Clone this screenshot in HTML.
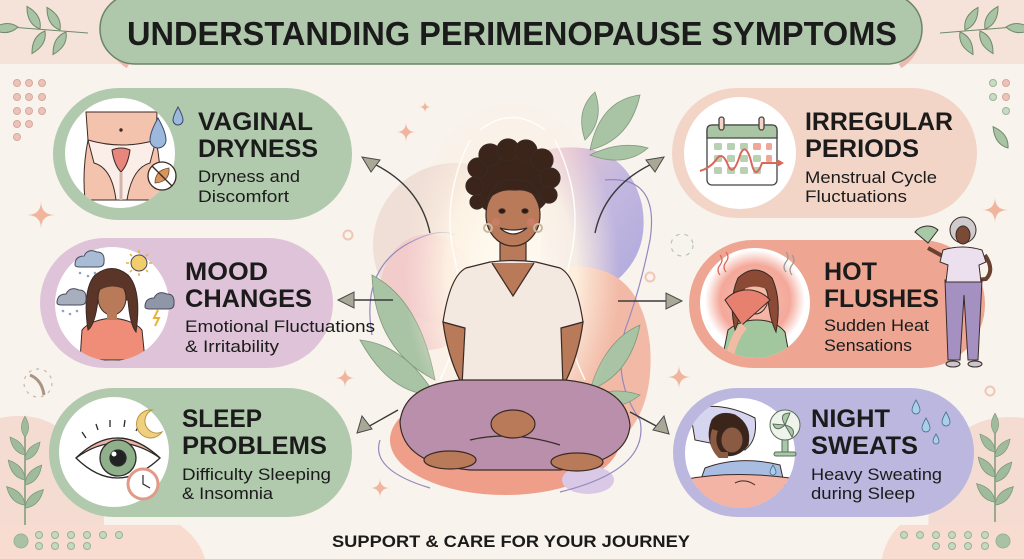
<!DOCTYPE html>
<html><head><meta charset="utf-8"><style>
html,body{margin:0;padding:0;background:#f8f3ec;}
svg{display:block;}
text{font-family:"Liberation Sans",Arial,sans-serif;fill:#1b1b1b;}
.h{font-weight:bold;font-size:25px;}
.s{font-size:17px;}
</style></head><body>
<svg width="1024" height="559" viewBox="0 0 1024 559" xmlns="http://www.w3.org/2000/svg">
<defs>
<radialGradient id="aura" cx="50%" cy="50%" r="50%">
<stop offset="0" stop-color="#fffdf6" stop-opacity="1"/>
<stop offset="0.6" stop-color="#fff6e6" stop-opacity="0.85"/>
<stop offset="1" stop-color="#fde9dc" stop-opacity="0"/>
</radialGradient>
<radialGradient id="heat" cx="50%" cy="50%" r="50%">
<stop offset="0" stop-color="#f7c2b4"/>
<stop offset="0.7" stop-color="#f4a89a"/>
<stop offset="1" stop-color="#fff"/>
</radialGradient>
<linearGradient id="lav" x1="0" y1="0" x2="1" y2="1">
<stop offset="0" stop-color="#efc8cf"/>
<stop offset="0.5" stop-color="#c3b8e0"/>
<stop offset="1" stop-color="#aea8dc"/>
</linearGradient>
<clipPath id="c1"><circle cx="120" cy="153" r="55"/></clipPath>
<clipPath id="c2"><circle cx="112" cy="304" r="57"/></clipPath>
<clipPath id="c3"><circle cx="114" cy="452" r="55"/></clipPath>
<clipPath id="c5"><circle cx="755" cy="303" r="55"/></clipPath>
<clipPath id="c6"><circle cx="740" cy="453" r="55"/></clipPath>
<path id="leaf" d="M0,0 Q9,-11 0,-26 Q-9,-11 0,0Z"/>
<path id="star" d="M0,-10 Q0,0 10,0 Q0,0 0,10 Q0,0 -10,0 Q0,0 0,-10Z"/>
</defs>

<!-- background -->
<rect width="1024" height="559" fill="#f8f3ec"/>
<rect width="1024" height="64" fill="#f5e2d8"/>
<!-- bottom corners -->
<path d="M0,418 Q60,405 95,470 Q110,510 100,559 L0,559Z" fill="#f5dcd2"/>
<path d="M0,525 L180,525 Q200,540 205,559 L0,559Z" fill="#f7dccf"/>
<path d="M1024,418 Q960,410 935,470 Q925,510 930,559 L1024,559Z" fill="#f5dcd2"/>
<path d="M1024,525 L900,525 Q885,540 882,559 L1024,559Z" fill="#f7dccf"/>

<!-- title -->
<path d="M128,-2 A40,40 0 0 0 128,66" fill="none" stroke="#eab9b0" stroke-width="5"/>
<path d="M900,-2 A40,40 0 0 1 900,66" fill="none" stroke="#eab9b0" stroke-width="5"/>
<rect x="100" y="-6" width="822" height="70" rx="35" fill="#afc8ab" stroke="#6b8468" stroke-width="1.5"/>
<text x="127" y="45" font-size="33" font-weight="bold" textLength="770" lengthAdjust="spacingAndGlyphs">UNDERSTANDING PERIMENOPAUSE SYMPTOMS</text>

<!-- top sprigs -->
<g fill="#a9c3a5" stroke="#6f8a6b" stroke-width="1">
<path d="M10,27 Q50,30 88,33" fill="none"/>
<use href="#leaf" transform="translate(18,27) rotate(-95)"/>
<use href="#leaf" transform="translate(40,29) rotate(-30)"/>
<use href="#leaf" transform="translate(60,30) rotate(-30)"/>
<use href="#leaf" transform="translate(45,31) rotate(210)"/>
<use href="#leaf" transform="translate(66,32) rotate(210)"/>
<path d="M1014,27 Q975,30 940,33" fill="none"/>
<use href="#leaf" transform="translate(1006,27) rotate(95)"/>
<use href="#leaf" transform="translate(985,29) rotate(30)"/>
<use href="#leaf" transform="translate(965,30) rotate(30)"/>
<use href="#leaf" transform="translate(980,31) rotate(150)"/>
<use href="#leaf" transform="translate(960,32) rotate(150)"/>
<use href="#leaf" transform="translate(1008,148) rotate(-35)"/>
</g>

<!-- dots top -->
<g fill="#eac4ba" stroke="#d9a89c" stroke-width="1">
<circle cx="17" cy="83" r="3.5"/><circle cx="29" cy="83" r="3.5"/><circle cx="42" cy="83" r="3.5"/>
<circle cx="17" cy="97" r="3.5"/><circle cx="29" cy="97" r="3.5"/><circle cx="42" cy="97" r="3.5"/>
<circle cx="17" cy="111" r="3.5"/><circle cx="29" cy="111" r="3.5"/><circle cx="42" cy="111" r="3.5"/>
<circle cx="17" cy="124" r="3.5"/><circle cx="29" cy="124" r="3.5"/>
<circle cx="17" cy="137" r="3.5"/>
<circle cx="993" cy="83" r="3.5" fill="#c9dbc5" stroke="#9bb597"/><circle cx="1006" cy="83" r="3.5"/>
<circle cx="993" cy="97" r="3.5" fill="#c9dbc5" stroke="#9bb597"/><circle cx="1006" cy="97" r="3.5"/>
<circle cx="1006" cy="111" r="3.5" fill="#c9dbc5" stroke="#9bb597"/>
</g>

<!-- bottom dots -->
<g fill="#c6d8c2" stroke="#97b393" stroke-width="1">
<circle cx="21" cy="541" r="7" fill="#a9c2a6"/>
<circle cx="39" cy="535" r="3.5"/><circle cx="55" cy="535" r="3.5"/><circle cx="71" cy="535" r="3.5"/><circle cx="87" cy="535" r="3.5"/><circle cx="103" cy="535" r="3.5"/><circle cx="119" cy="535" r="3.5"/>
<circle cx="39" cy="546" r="3.5"/><circle cx="55" cy="546" r="3.5"/><circle cx="71" cy="546" r="3.5"/><circle cx="87" cy="546" r="3.5"/>
<circle cx="1003" cy="541" r="7" fill="#a9c2a6"/>
<circle cx="904" cy="535" r="3.5"/><circle cx="920" cy="535" r="3.5"/><circle cx="936" cy="535" r="3.5"/><circle cx="952" cy="535" r="3.5"/><circle cx="968" cy="535" r="3.5"/><circle cx="985" cy="535" r="3.5"/>
<circle cx="936" cy="546" r="3.5"/><circle cx="952" cy="546" r="3.5"/><circle cx="968" cy="546" r="3.5"/><circle cx="985" cy="546" r="3.5"/>
</g>

<!-- bottom plants -->
<g fill="#9fbb9b" stroke="#7d9979" stroke-width="0.8">
<path d="M25,525 L25,435" fill="none" stroke-width="1.5"/>
<use href="#leaf" transform="translate(25,437) rotate(0) scale(0.8)"/>
<use href="#leaf" transform="translate(25,455) rotate(-40) scale(0.9)"/>
<use href="#leaf" transform="translate(25,460) rotate(40) scale(0.9)"/>
<use href="#leaf" transform="translate(25,480) rotate(-40)"/>
<use href="#leaf" transform="translate(25,485) rotate(40)"/>
<use href="#leaf" transform="translate(25,505) rotate(-45)"/>
<use href="#leaf" transform="translate(25,508) rotate(45)"/>
<path d="M995,522 L995,432" fill="none" stroke-width="1.5"/>
<use href="#leaf" transform="translate(995,434) rotate(0) scale(0.8)"/>
<use href="#leaf" transform="translate(995,452) rotate(-40) scale(0.9)"/>
<use href="#leaf" transform="translate(995,457) rotate(40) scale(0.9)"/>
<use href="#leaf" transform="translate(995,477) rotate(-40)"/>
<use href="#leaf" transform="translate(995,482) rotate(40)"/>
<use href="#leaf" transform="translate(995,502) rotate(-45)"/>
<use href="#leaf" transform="translate(995,505) rotate(45)"/>
</g>
<!-- leaf ring left -->
<g fill="none" stroke="#c9b6a8" stroke-width="1.2">
<circle cx="38" cy="383" r="14" stroke-dasharray="3 5"/>
<path d="M30,375 Q42,380 44,395" stroke="#a89585" stroke-width="3"/>
</g>
<g fill="none" stroke="#b6c9b2" stroke-width="1.2">
<circle cx="682" cy="245" r="11" stroke-dasharray="4 5"/>
</g>

<!-- sparkles -->
<g fill="#f0b59c">
<use href="#star" transform="translate(41,215) scale(1.4)"/>
<use href="#star" transform="translate(406,132) scale(1)"/>
<use href="#star" transform="translate(425,107) scale(0.6)"/>
<use href="#star" transform="translate(345,378) scale(1)"/>
<use href="#star" transform="translate(380,488) scale(1)"/>
<use href="#star" transform="translate(995,210) scale(1.3)"/>
<use href="#star" transform="translate(679,377) scale(1.2)"/>
</g>
<g fill="none" stroke="#f0c6b6" stroke-width="2">
<circle cx="348" cy="235" r="4.5"/><circle cx="650" cy="277" r="4.5"/><circle cx="990" cy="391" r="4.5"/>
</g>

<!-- CENTER FIGURE BACKGROUND -->
<circle cx="455" cy="245" r="82" fill="#efdfd6"/>
<path d="M545,150 Q625,135 642,205 Q652,262 600,292 Q560,305 540,262 Z" fill="url(#lav)"/>
<ellipse cx="428" cy="292" rx="48" ry="58" fill="#f2c8c9" opacity="0.85"/>
<path d="M555,268 Q640,255 650,345 Q656,425 600,455 L560,440 Z" fill="#f2baa6"/>
<ellipse cx="505" cy="440" rx="115" ry="55" fill="#ef9f89"/>
<ellipse cx="588" cy="480" rx="26" ry="14" fill="#d9c9e6"/>
<g fill="none" stroke="#9488bf" stroke-width="1.2">
<path d="M372,335 Q360,265 415,240 Q440,228 455,235"/>
<path d="M605,180 Q660,175 650,240 Q640,290 625,330 Q612,380 640,420 Q650,470 560,492"/>
<path d="M380,440 Q370,470 430,488"/>
</g>
<!-- leaves behind -->
<g fill="#a9c3a5" stroke="#7f9a7b" stroke-width="0.8">
<path d="M585,140 Q575,110 595,92 Q605,120 585,140Z"/>
<path d="M590,150 Q600,100 640,95 Q630,140 590,150Z"/>
<path d="M590,155 Q620,140 648,148 Q625,168 590,155Z"/>
<path d="M435,380 Q375,350 372,275 Q420,300 435,380Z"/>
<path d="M435,395 Q390,395 360,340 Q405,345 435,395Z"/>
<path d="M590,390 Q605,340 640,325 Q630,375 590,390Z"/>
<path d="M585,400 Q610,385 640,395 Q615,415 585,400Z"/>
</g>
<ellipse cx="512" cy="275" rx="108" ry="175" fill="url(#aura)"/>
<g fill="none" stroke="#ffffff" stroke-width="1.5" opacity="0.9">
<path d="M470,140 Q440,200 455,260 Q470,320 440,380"/>
<path d="M555,140 Q585,200 570,260 Q555,320 585,380"/>
<path d="M480,130 Q512,105 545,130"/>
</g>

<!-- woman -->
<g stroke="#3a2a25" stroke-width="1.2">
<!-- hair back -->
<g fill="#3b2419">
<ellipse cx="512" cy="184" rx="40" ry="34"/>
<circle cx="478" cy="168" r="10"/><circle cx="490" cy="155" r="11"/><circle cx="508" cy="150" r="11"/><circle cx="526" cy="151" r="11"/><circle cx="542" cy="160" r="11"/><circle cx="550" cy="178" r="10"/><circle cx="475" cy="186" r="9"/><circle cx="549" cy="195" r="8"/><circle cx="477" cy="202" r="7"/>
</g>
<!-- neck -->
<rect x="500" y="236" width="26" height="32" fill="#b87a58"/>
<!-- face -->
<ellipse cx="513" cy="215" rx="27" ry="31" fill="#b87a58"/>
<path d="M487,200 Q495,178 515,180 Q535,178 540,200 Q530,188 515,190 Q498,188 487,200Z" fill="#3b2419"/>
<circle cx="488" cy="228" r="4" fill="none" stroke="#c9b9a0" stroke-width="2"/>
<circle cx="538" cy="228" r="4" fill="none" stroke="#c9b9a0" stroke-width="2"/>
<ellipse cx="502" cy="211" rx="3" ry="2.2" fill="#2a1a14"/>
<ellipse cx="525" cy="211" rx="3" ry="2.2" fill="#2a1a14"/>
<path d="M500,228 Q513,240 527,228 Q513,232 500,228Z" fill="#fff"/>
<circle cx="496" cy="222" r="4" fill="#d27d6e" stroke="none" opacity="0.7"/>
<circle cx="531" cy="222" r="4" fill="#d27d6e" stroke="none" opacity="0.7"/>
<!-- arms -->
<path d="M443,322 L465,328 Q478,380 514,420 L502,434 Q452,392 443,322Z" fill="#b87a58"/>
<path d="M583,322 L561,328 Q548,380 512,420 L524,434 Q574,392 583,322Z" fill="#b87a58"/>
<!-- shirt -->
<path d="M490,262 Q513,259 536,262 L560,268 Q576,276 583,322 L561,328 L563,386 Q513,394 462,386 L465,328 L443,322 Q450,276 466,268 Z" fill="#f3e9e1"/>
<path d="M492,263 L513,296 L534,263" fill="#b87a58"/>
<!-- pants -->
<path d="M400,422 Q404,385 460,380 L565,380 Q626,386 630,425 Q628,462 560,470 L470,470 Q402,464 400,422Z" fill="#b98fab"/>
<path d="M470,440 Q512,430 560,445" fill="none"/>
<!-- feet -->
<ellipse cx="450" cy="460" rx="26" ry="9" fill="#b87a58"/>
<ellipse cx="577" cy="462" rx="26" ry="9" fill="#b87a58"/>
<!-- hands -->
<ellipse cx="513" cy="424" rx="22" ry="14" fill="#b87a58"/>
</g>

<!-- ARROWS -->
<g fill="none" stroke="#3a3a3a" stroke-width="1.4">
<path d="M430,233 Q420,185 370,162"/>
<path d="M595,233 Q605,185 656,162"/>
<path d="M393,300 L350,300"/>
<path d="M618,301 L670,301"/>
<path d="M398,410 L366,428"/>
<path d="M630,412 L660,428"/>
</g>
<g fill="#a9a796" stroke="#4a4a4a" stroke-width="1">
<path d="M362,157 L380,160 L371,172 Z"/>
<path d="M664,157 L646,160 L655,172 Z"/>
<path d="M338,300 L354,292 L354,308 Z"/>
<path d="M682,301 L666,293 L666,309 Z"/>
<path d="M357,433 L362,416 L372,429 Z"/>
<path d="M669,434 L653,430 L664,416 Z"/>
</g>

<!-- CARDS -->
<rect x="53" y="88" width="299" height="132" rx="66" fill="#b1c9ad"/>
<rect x="40" y="238" width="293" height="130" rx="65" fill="#dfc4d9"/>
<rect x="49" y="388" width="303" height="129" rx="64.5" fill="#b1c9ad"/>
<rect x="672" y="88" width="305" height="130" rx="65" fill="#f3d5c8"/>
<rect x="689" y="240" width="296" height="128" rx="64" fill="#eea692"/>
<rect x="673" y="388" width="301" height="129" rx="64.5" fill="#bbb7df"/>

<!-- circles -->
<g fill="#fff">
<circle cx="120" cy="153" r="55"/>
<circle cx="112" cy="304" r="57"/>
<circle cx="114" cy="452" r="55"/>
<circle cx="740" cy="153" r="56"/>
<circle cx="755" cy="303" r="55"/>
<circle cx="740" cy="453" r="55"/>
</g>

<!-- icon 1: vaginal dryness -->
<g clip-path="url(#c1)" stroke="#3a2a25" stroke-width="1">
<path d="M86,112 L157,112 L156,140 Q162,170 160,200 L85,200 Q82,170 88,140 Z" fill="#f3c3ad"/>
<path d="M88,140 Q122,150 156,140 L150,163 Q132,168 127,200 L116,200 Q112,168 94,163 Z" fill="#fbeee8"/>
<path d="M112,150 Q121,146 130,150 Q128,165 121,172 Q114,165 112,150Z" fill="#e8867e"/>
<path d="M121,172 L121,200" stroke="#d3b4a8" stroke-width="3"/>
<circle cx="121" cy="130" r="1.2" fill="#3a2a25"/>
</g>
<path d="M158,118 Q150,132 150,140 A8,8 0 0 0 166,140 Q166,132 158,118Z" fill="#9cb9dd" stroke="#3a4a6a" stroke-width="1"/>
<path d="M178,107 Q173,116 173,120 A5,5 0 0 0 183,120 Q183,116 178,107Z" fill="#9cb9dd" stroke="#3a4a6a" stroke-width="1"/>
<circle cx="162" cy="176" r="14" fill="#fff" stroke="#3a2a25" stroke-width="1.3"/>
<path d="M155,183 Q155,170 169,168 Q170,182 155,183Z" fill="#d9955c" stroke="#6a4a2a" stroke-width="0.8"/>
<path d="M152,166 L172,186" stroke="#3a2a25" stroke-width="1.3"/>

<!-- icon 2: mood -->
<g clip-path="url(#c2)" stroke="#3a2a25" stroke-width="1">
<path d="M80,360 L82,330 Q90,320 112,318 Q134,320 142,330 L145,360Z" fill="#ef8d78"/>
<path d="M88,330 Q82,290 95,275 Q112,262 128,275 Q142,290 136,332 Q130,325 128,300 L98,300 Q95,325 88,330Z" fill="#5b3527"/>
<ellipse cx="112" cy="298" rx="14" ry="17" fill="#b87a58"/>
<rect x="107" y="312" width="10" height="8" fill="#b87a58" stroke="none"/>
<path d="M100,285 Q112,276 126,285 L126,290 Q112,283 100,290Z" fill="#5b3527" stroke="none"/>
</g>
<g stroke="#4a4a5a" stroke-width="1">
<path d="M75,265 Q75,256 84,256 Q88,248 97,252 Q105,252 104,262 Q104,267 98,267 L80,267 Q75,267 75,265Z" fill="#a9bcd6"/>
<path d="M57,303 Q57,294 66,294 Q70,286 79,290 Q87,290 86,300 Q86,305 80,305 L62,305 Q57,305 57,303Z" fill="#a7afbf"/>
<path d="M145,307 Q145,298 154,298 Q158,290 167,294 Q175,294 174,304 Q174,309 168,309 L150,309 Q145,309 145,307Z" fill="#8e96a8"/>
<path d="M158,310 L154,318 L159,318 L155,326" fill="none" stroke="#e6b23a" stroke-width="2"/>
<circle cx="139" cy="263" r="8" fill="#f2cd6b"/>
<g stroke="#e6b23a" stroke-width="1.5"><path d="M139,250 L139,253M139,273 L139,276M126,263 L129,263M149,263 L152,263M130,254 L132,256M146,270 L148,272M148,254 L146,256M130,272 L132,270"/></g>
</g>
<g fill="#8ea2c4"><circle cx="80" cy="273" r="1.3"/><circle cx="88" cy="276" r="1.3"/><circle cx="95" cy="273" r="1.3"/><circle cx="63" cy="311" r="1.3"/><circle cx="70" cy="314" r="1.3"/><circle cx="77" cy="311" r="1.3"/></g>

<!-- icon 3: sleep -->
<g stroke="#2a2a2a" stroke-width="1.3">
<path d="M76,458 Q117,418 160,458 Q117,498 76,458Z" fill="#fff"/>
<path d="M76,458 Q117,418 160,458 Q117,428 76,458Z" fill="#eab3a4"/>
<circle cx="118" cy="458" r="18" fill="#90b08c"/>
<circle cx="118" cy="458" r="8" fill="#222"/>
<circle cx="114" cy="454" r="2.5" fill="#fff" stroke="none"/>
<path d="M86,438 L82,432M98,430 L96,424M110,427 L110,420M124,427 L125,420M136,431 L139,425M148,438 L152,432" fill="none"/>
<path d="M152,410 A14,14 0 1 0 162,432 A11,11 0 1 1 152,410Z" fill="#f0cf7f" stroke="#b89540" stroke-width="1"/>
<circle cx="143" cy="484" r="15" fill="#fff" stroke="#e29a88" stroke-width="3"/>
<path d="M143,475 L143,484 L150,488" fill="none" stroke-width="1.2"/>
</g>

<!-- icon 4: calendar -->
<g stroke="#444" stroke-width="1.3">
<rect x="707" y="125" width="70" height="60" rx="5" fill="#fff"/>
<path d="M707,138 L707,130 Q707,125 712,125 L772,125 Q777,125 777,130 L777,138Z" fill="#a9c5a3"/>
<rect x="719" y="117" width="5" height="13" rx="2.5" fill="#f3d5c8"/>
<rect x="759" y="117" width="5" height="13" rx="2.5" fill="#f3d5c8"/>
</g>
<g fill="#b9d0b3">
<rect x="714" y="143" width="8" height="7" rx="1.5"/><rect x="727" y="143" width="8" height="7" rx="1.5"/><rect x="740" y="143" width="8" height="7" rx="1.5"/><rect x="753" y="143" width="8" height="7" rx="1.5" fill="#eea89a"/><rect x="766" y="143" width="6" height="7" rx="1.5" fill="#eea89a"/>
<rect x="714" y="155" width="8" height="7" rx="1.5"/><rect x="727" y="155" width="8" height="7" rx="1.5"/><rect x="740" y="155" width="8" height="7" rx="1.5"/><rect x="753" y="155" width="8" height="7" rx="1.5"/><rect x="766" y="155" width="6" height="7" rx="1.5" fill="#eea89a"/>
<rect x="714" y="167" width="8" height="7" rx="1.5"/><rect x="727" y="167" width="8" height="7" rx="1.5"/><rect x="740" y="167" width="8" height="7" rx="1.5"/><rect x="753" y="167" width="8" height="7" rx="1.5"/>
</g>
<path d="M700,171 Q710,168 716,160 Q722,150 728,165 Q733,178 740,155 Q746,140 752,165 Q756,180 762,163 L782,163" fill="none" stroke="#d9675a" stroke-width="2"/>
<path d="M784,163 L777,159 L777,167Z" fill="#d9675a"/>

<!-- icon 5: hot flush -->
<g clip-path="url(#c5)">
<circle cx="755" cy="300" r="50" fill="url(#heat)"/>
<g stroke="#3a2a25" stroke-width="1">
<path d="M722,360 L728,330 Q740,320 757,320 Q775,320 785,332 L790,360Z" fill="#a2c69d"/>
<path d="M735,330 Q728,300 738,278 Q755,262 772,278 Q782,300 776,332 Q770,320 768,300 L742,300 Q740,320 735,330Z" fill="#8a4a35"/>
<ellipse cx="755" cy="298" rx="13" ry="16" fill="#f2bca4"/>
<circle cx="747" cy="302" r="3.5" fill="#ec8a80" stroke="none"/>
<circle cx="764" cy="302" r="3.5" fill="#ec8a80" stroke="none"/>
<path d="M742,285 Q755,276 768,285 L768,290 Q755,283 742,290Z" fill="#8a4a35" stroke="none"/>
<path d="M742,325 L725,300 A30,30 0 0 1 770,300 Z" fill="#e8806f"/>
<path d="M730,355 Q735,335 744,326" fill="none" stroke-width="8" stroke="#f2bca4"/>
</g>
</g>
<g fill="none" stroke="#d9675a" stroke-width="1.2">
<path d="M720,275 Q716,270 720,265 Q724,260 720,255"/><path d="M726,272 Q722,267 726,262 Q730,257 726,252"/>
<path d="M786,272 Q782,267 786,262 Q790,257 786,252" stroke="#999"/><path d="M792,275 Q788,270 792,265 Q796,260 792,255" stroke="#999"/>
</g>

<!-- icon 6: night sweats -->
<g clip-path="url(#c6)" stroke="#3a2a25" stroke-width="1">
<path d="M690,410 Q720,400 755,418 Q758,440 745,450 L695,440Z" fill="#d5d5ef"/>
<path d="M705,468 Q740,455 780,465 L790,510 L690,510Z" fill="#a9bde3"/>
<path d="M712,420 Q705,438 715,452 Q735,462 748,445 Q752,425 735,415 Q720,410 712,420Z" fill="#3b2419"/>
<ellipse cx="732" cy="440" rx="11" ry="13" fill="#8a5a42"/>
<path d="M715,430 Q710,445 720,455 L728,455" fill="none" stroke-width="6" stroke="#8a5a42"/>
<path d="M682,480 Q730,470 790,478 L800,515 L680,515Z" fill="#f3b3a5"/>
<path d="M735,483 Q745,478 755,485" fill="none"/>
</g>
<g stroke="#5a6a5a" stroke-width="1">
<rect x="782" y="437" width="6" height="16" fill="#a8c9a8"/>
<rect x="774" y="452" width="22" height="4" rx="2" fill="#a8c9a8"/>
<circle cx="785" cy="425" r="15" fill="#eef4ec"/>
<path d="M785,425 Q778,413 790,413Z M785,425 Q797,428 792,437Z M785,425 Q776,433 773,424Z" fill="#a8c9a8"/>
</g>
<g fill="#a8d0e8" stroke="#4a6a8a" stroke-width="0.8">
<path d="M916,400 Q912,407 912,410 A4,4 0 0 0 920,410 Q920,407 916,400Z"/>
<path d="M926,418 Q922,425 922,428 A4,4 0 0 0 930,428 Q930,425 926,418Z"/>
<path d="M946,412 Q942,419 942,422 A4,4 0 0 0 950,422 Q950,419 946,412Z"/>
<path d="M936,434 Q933,439 933,441 A3,3 0 0 0 939,441 Q939,439 936,434Z"/>
<path d="M773,465 Q770,470 770,472 A3,3 0 0 0 776,472 Q776,470 773,465Z"/>
</g>

<!-- standing woman -->
<g stroke="#3a2a25" stroke-width="1">
<path d="M928,248 L946,258" stroke="#6a4030" stroke-width="4"/>
<path d="M928,243 L915,232 A16,16 0 0 1 938,230 Z" fill="#a8c9a8"/>
<path d="M985,255 Q995,270 986,279 L976,280" fill="none" stroke="#6a4030" stroke-width="4"/>
<path d="M948,360 L945,280 L982,280 L978,360 L968,360 L964,295 L960,360Z" fill="#a491c2"/>
<path d="M943,250 Q962,244 982,250 L986,262 L979,265 L981,282 L946,282 L948,265 L940,262Z" fill="#ece0ef"/>
<circle cx="963" cy="230" r="13" fill="#cfcbcd"/>
<ellipse cx="963" cy="235" rx="7" ry="9" fill="#7a4a35"/>
<ellipse cx="953" cy="364" rx="7" ry="3" fill="#c9c6cf"/>
<ellipse cx="975" cy="364" rx="7" ry="3" fill="#c9c6cf"/>
</g>

<!-- TEXTS -->
<text class="h" x="198" y="130" textLength="115" lengthAdjust="spacingAndGlyphs">VAGINAL</text>
<text class="h" x="198" y="157" textLength="120" lengthAdjust="spacingAndGlyphs">DRYNESS</text>
<text class="s" x="198" y="182" textLength="102" lengthAdjust="spacingAndGlyphs">Dryness and</text>
<text class="s" x="198" y="202" textLength="91" lengthAdjust="spacingAndGlyphs">Discomfort</text>

<text class="h" x="185" y="280" textLength="83" lengthAdjust="spacingAndGlyphs">MOOD</text>
<text class="h" x="185" y="307" textLength="127" lengthAdjust="spacingAndGlyphs">CHANGES</text>
<text class="s" x="185" y="332" textLength="190" lengthAdjust="spacingAndGlyphs">Emotional Fluctuations</text>
<text class="s" x="185" y="352" textLength="94" lengthAdjust="spacingAndGlyphs">&amp; Irritability</text>

<text class="h" x="182" y="427" textLength="80" lengthAdjust="spacingAndGlyphs">SLEEP</text>
<text class="h" x="182" y="454" textLength="145" lengthAdjust="spacingAndGlyphs">PROBLEMS</text>
<text class="s" x="182" y="480" textLength="149" lengthAdjust="spacingAndGlyphs">Difficulty Sleeping</text>
<text class="s" x="182" y="499" textLength="91" lengthAdjust="spacingAndGlyphs">&amp; Insomnia</text>

<text class="h" x="805" y="130" textLength="148" lengthAdjust="spacingAndGlyphs">IRREGULAR</text>
<text class="h" x="805" y="157" textLength="114" lengthAdjust="spacingAndGlyphs">PERIODS</text>
<text class="s" x="805" y="183" textLength="132" lengthAdjust="spacingAndGlyphs">Menstrual Cycle</text>
<text class="s" x="805" y="202" textLength="102" lengthAdjust="spacingAndGlyphs">Fluctuations</text>

<text class="h" x="824" y="280" textLength="53" lengthAdjust="spacingAndGlyphs">HOT</text>
<text class="h" x="824" y="307" textLength="115" lengthAdjust="spacingAndGlyphs">FLUSHES</text>
<text class="s" x="824" y="331" textLength="105" lengthAdjust="spacingAndGlyphs">Sudden Heat</text>
<text class="s" x="824" y="351" textLength="88" lengthAdjust="spacingAndGlyphs">Sensations</text>

<text class="h" x="811" y="427" textLength="79" lengthAdjust="spacingAndGlyphs">NIGHT</text>
<text class="h" x="811" y="454" textLength="107" lengthAdjust="spacingAndGlyphs">SWEATS</text>
<text class="s" x="811" y="480" textLength="131" lengthAdjust="spacingAndGlyphs">Heavy Sweating</text>
<text class="s" x="811" y="499" textLength="104" lengthAdjust="spacingAndGlyphs">during Sleep</text>

<text x="332" y="547" font-size="16.5" font-weight="bold" textLength="358" lengthAdjust="spacingAndGlyphs">SUPPORT &amp; CARE FOR YOUR JOURNEY</text>
</svg>
</body></html>
